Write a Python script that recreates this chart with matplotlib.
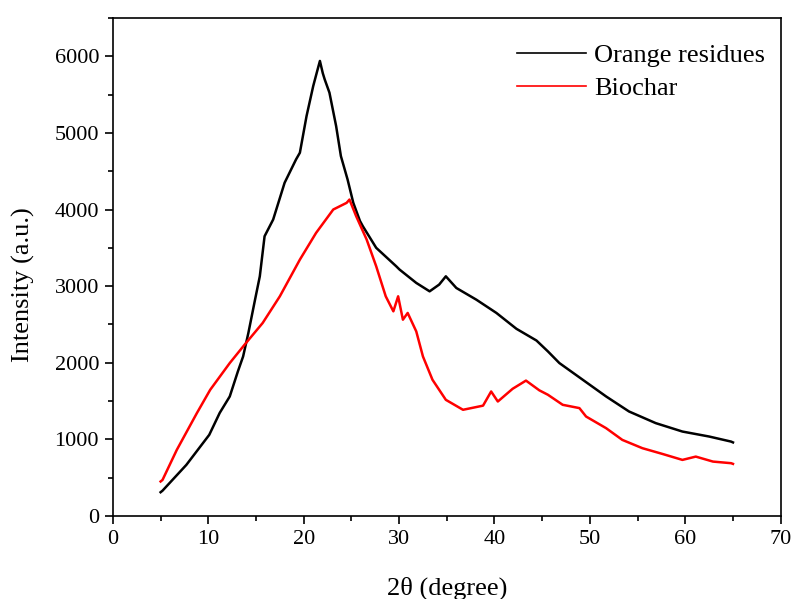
import matplotlib
matplotlib.use('agg')
import matplotlib.pyplot as plt
import matplotlib.ticker as mticker

plt.rcParams['font.family'] = ['Liberation Serif', 'DejaVu Serif']

# values (2theta in degree, intensity in a.u.)
orange_x = [5.0, 5.2, 7.7, 10.1, 11.2, 12.25, 13.1, 13.65, 14.2, 14.9, 15.4,
            15.9, 16.8, 18.0, 19.2, 19.6, 20.3, 21.0, 21.4, 21.7, 22.0, 22.2,
            22.7, 23.4, 23.9, 24.6, 25.2, 25.9, 26.2, 27.6, 29.7, 30.05, 31.8,
            33.2, 34.2, 34.9, 36.0, 38.1, 40.2, 42.3, 44.4, 45.6, 46.8, 49.25,
            51.7, 54.1, 56.9, 59.7, 62.5, 64.8, 65.0]
orange_y = [310, 330, 667, 1059, 1346, 1560, 1886, 2082, 2388, 2823, 3128,
            3651, 3869, 4349, 4654, 4741, 5220, 5612, 5800, 5939, 5780, 5699,
            5525, 5089, 4697, 4392, 4087, 3850, 3782, 3500, 3259, 3216, 3042,
            2932, 3020, 3128, 2976, 2823, 2650, 2443, 2290, 2148, 1996, 1778,
            1560, 1364, 1212, 1102, 1037, 971, 960]

biochar_x = [5.0, 5.2, 6.7, 8.8, 10.2, 12.25, 13.8, 15.7, 17.5, 19.6, 21.3,
             23.1, 24.5, 24.8, 25.5, 26.6, 27.6, 28.6, 29.4, 29.9, 30.4, 30.9,
             31.8, 32.5, 33.5, 34.9, 36.7, 38.8, 39.65, 40.35, 41.9, 43.3, 44.7,
             45.6, 47.15, 48.9, 49.6, 51.7, 53.4, 55.5, 57.6, 59.7, 61.1, 62.9,
             64.8, 65.0]
biochar_y = [450, 470, 863, 1342, 1647, 1996, 2235, 2519, 2867, 3346, 3695,
             4000, 4087, 4130, 3913, 3608, 3259, 2867, 2671, 2867, 2562, 2650,
             2409, 2082, 1778, 1516, 1386, 1440, 1625, 1494, 1660, 1767, 1640,
             1582, 1451, 1408, 1298, 1146, 993, 885, 810, 732, 775, 710, 689, 680]

fig = plt.figure(figsize=(7.95, 5.99), dpi=100)
ax = fig.add_axes([0.142, 0.1386, 0.84, 0.8314])

ax.plot(orange_x, orange_y, color='black', lw=1.8, label='Orange residues')
ax.plot(biochar_x, biochar_y, color='red', lw=1.8, label='Biochar')

ax.set_xlim(0, 70)
ax.set_ylim(0, 6500)
ax.xaxis.set_major_locator(mticker.MultipleLocator(10))
ax.xaxis.set_minor_locator(mticker.MultipleLocator(5))
ax.yaxis.set_major_locator(mticker.MultipleLocator(1000))
ax.yaxis.set_minor_locator(mticker.MultipleLocator(500))
ax.tick_params(which='major', direction='out', length=6, width=1.2,
               labelsize=16, pad=4)
ax.tick_params(which='minor', direction='out', length=3.5, width=1.2)
for sp in ax.spines.values():
    sp.set_linewidth(1.2)

ax.set_xlabel('2θ (degree)', fontsize=19, labelpad=20)
ax.set_ylabel('Intensity (a.u.)', fontsize=19)
ax.yaxis.set_label_coords(-0.117, 0.464)

leg = ax.legend(loc='upper right', bbox_to_anchor=(1.0, 0.98), frameon=False,
                fontsize=19, handlelength=2.6, handletextpad=0.3,
                labelspacing=0.35, borderaxespad=0.2)
for line in leg.get_lines():
    line.set_linewidth(1.2)

fig.savefig('out.png', dpi=100)
